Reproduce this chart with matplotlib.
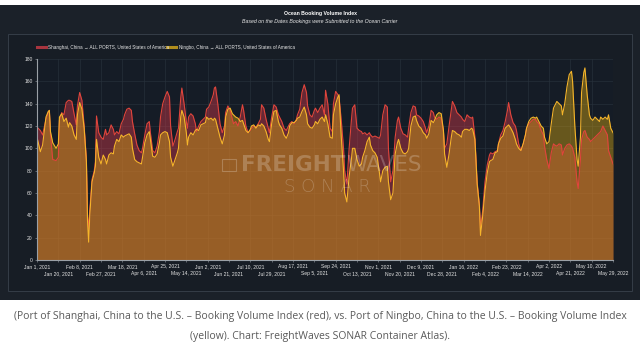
import matplotlib
matplotlib.use('Agg')
import matplotlib.pyplot as plt
import pandas as pd
from matplotlib.patches import Rectangle
from matplotlib.lines import Line2D

# ---------------- data (days since Jan 1, 2021) ----------------
start_date = '2021-01-01'
days = [0,3,5,8,10,11,12,14,17,19,
20,22,24,26,28,29,31,33,35,36,
38,40,42,44,45,46,47,49,51,52,
53,55,57,59,61,62,64,66,68,69,
71,73,75,77,78,80,82,84,85,87,
89,91,93,94,96,98,100,101,103,105,
107,109,110,112,114,116,118,119,121,123,
125,126,128,129,131,133,134,135,137,139,
141,142,144,146,148,150,151,153,155,157,
158,159,161,163,165,167,168,170,172,174,
175,177,179,181,183,184,186,188,190,191,
193,195,197,199,200,202,204,206,207,209,
211,213,215,216,218,220,222,224,225,227,
229,231,232,234,236,238,240,241,243,245,
247,248,250,252,254,256,257,259,261,263,
264,266,268,269,271,273,274,276,278,280,
281,283,285,287,289,290,292,294,296,297,
299,301,303,305,306,308,310,312,313,315,
317,319,321,322,324,326,328,330,331,333,
335,337,338,340,342,344,346,347,349,351,
353,354,356,358,360,362,363,365,367,369,
370,372,374,376,378,379,381,383,385,387,
388,390,392,394,395,397,399,401,403,404,
406,408,410,411,413,415,417,419,420,422,
424,426,427,429,431,433,435,436,438,440,
442,444,445,447,449,451,452,454,456,458,
460,461,463,465,467,468,470,472,474,476,
477,479,481,482,484,485,487,488,490,492,
493,495,497,499,501,502,504,506,508,509,
511,513]

shanghai = [119,116,112,126,132,134,112,90,89,92,
125,132,130,141,143,143,142,131,121,138,
150,143,120,90,40,28,45,72,80,88,
129,114,110,108,117,112,114,121,117,112,
115,113,122,126,130,135,136,134,124,113,
103,98,96,100,112,122,124,114,98,96,
102,115,128,140,146,151,146,120,102,108,
115,118,145,154,140,124,118,128,131,129,
122,115,120,124,126,128,135,137,142,148,
154,155,140,122,114,120,132,138,134,126,
122,124,120,128,139,134,120,114,116,118,
120,119,122,126,139,136,126,118,114,128,
139,137,130,128,124,118,116,120,122,124,
122,126,130,135,150,157,150,138,130,128,
134,136,132,136,139,130,152,140,118,115,
140,151,148,146,125,100,80,68,100,125,
136,139,118,116,115,113,114,112,114,112,
110,111,110,109,112,130,139,137,100,70,
80,110,125,128,118,113,112,110,118,132,
138,137,130,129,127,124,118,114,120,134,
132,128,126,128,127,115,100,104,120,135,
142,138,132,130,128,126,124,130,128,127,
128,110,70,50,28,45,70,85,94,96,
95,97,98,104,112,116,124,134,141,130,
123,120,116,104,98,104,112,118,122,124,
126,126,124,122,116,112,102,90,82,96,
104,103,102,104,103,94,100,103,104,102,
100,92,70,64,90,108,115,116,110,108,
106,108,110,112,114,115,120,116,112,98,
92,86]

ningbo = [110,97,103,128,133,134,115,105,100,104,
128,131,124,127,119,123,120,112,108,130,
141,135,118,88,35,16,40,70,78,84,
108,92,86,94,90,86,94,96,95,102,
108,106,112,110,111,112,113,110,100,90,
88,87,86,92,105,112,115,108,93,92,
95,105,112,114,115,114,106,92,84,90,
96,100,128,134,128,114,103,110,114,112,
116,117,116,121,122,123,128,126,127,125,
127,126,118,110,104,112,128,135,136,131,
130,128,127,124,125,122,116,114,117,120,
121,118,121,120,122,120,115,108,106,122,
133,134,124,121,118,112,109,114,120,123,
123,125,127,128,133,137,130,122,119,118,
121,124,122,126,128,124,130,122,110,109,
130,140,146,148,110,80,60,52,75,90,
100,100,90,84,86,92,98,106,110,103,
98,96,92,78,70,80,83,84,70,54,
60,95,105,108,100,96,95,97,100,120,
128,129,125,120,118,114,112,109,113,125,
123,125,130,132,131,116,95,83,95,110,
116,115,113,112,110,115,117,117,116,118,
117,108,68,48,22,40,62,78,88,89,
90,96,97,104,109,111,118,120,121,118,
114,108,104,100,98,104,112,118,124,127,
128,127,128,124,120,118,110,104,106,122,
136,138,142,140,138,130,140,155,166,169,
160,120,90,84,110,150,168,172,148,130,
127,125,128,126,124,128,126,128,126,130,
118,114]

series_names = ['Shanghai, China \u2192 ALL PORTS, United States of America',
                'Ningbo, China \u2192 ALL PORTS, United States of America']
y_ticks = [0, 20, 40, 60, 80, 100, 120, 140, 160, 180]
x_tick_step_days = 19
x_tick_count = 28

title = 'Ocean Booking Volume Index'
subtitle = 'Based on the Dates Bookings were Submitted to the Ocean Carrier'
caption1 = ('(Port of Shanghai, China to the U.S. \u2013 Booking Volume Index (red), vs. '
            'Port of Ningbo, China to the U.S. \u2013 Booking Volume Index')
caption2 = '(yellow). Chart: FreightWaves SONAR Container Atlas).'

# ---------------- figure ----------------
W, H = 640, 352
fig = plt.figure(figsize=(W / 100, H / 100), dpi=100)
fig.patch.set_facecolor('white')

def fx(px):
    return px / W

def fy(py):
    return 1 - py / H

narrow = ['Liberation Sans', 'DejaVu Sans']

panel_bg = '#1b2129'
fig.patches.append(Rectangle((0, fy(300)), 1, (300 - 5) / H, transform=fig.transFigure,
                             facecolor=panel_bg, edgecolor='none', zorder=-3))
fig.patches.append(Rectangle((fx(8), fy(291)), (632 - 8) / W, (291 - 34) / H,
                             transform=fig.transFigure, facecolor='#171d25',
                             edgecolor='#353d48', lw=0.7, zorder=-2))

fig.text(0.5, fy(13.5), title, ha='center', va='center', fontsize=3.7,
         fontweight='bold', color='white', family=narrow)
fig.text(0.5, fy(21), subtitle, ha='center', va='center', fontsize=3.8,
         style='italic', color='#e6e6e6', family=narrow)

red_line = '#e0453c'
red_fill = '#d93a4a'
yel_line = '#f5b52a'
yel_fill = '#dba912'

# legend (manual)
leg_y = fy(47)
fig.add_artist(Line2D([fx(37), fx(46)], [leg_y, leg_y], color='#a8353f', lw=2.2,
                      transform=fig.transFigure))
fig.text(fx(48), leg_y, series_names[0], ha='left', va='center', fontsize=3.3,
         color='#e8e8e8', family=narrow)
fig.add_artist(Line2D([fx(167), fx(176)], [leg_y, leg_y], color='#b08d1c', lw=2.2,
                      transform=fig.transFigure))
fig.text(fx(179), leg_y, series_names[1], ha='left', va='center', fontsize=3.3,
         color='#e8e8e8', family=narrow)

# axes
ax = fig.add_axes([fx(37), fy(260), (613 - 37) / W, (260 - 59) / H])
ax.set_facecolor('#151c26')

dates = pd.Timestamp(start_date) + pd.to_timedelta(days, unit='D')

ax.fill_between(dates, 0, shanghai, color=red_fill, alpha=0.42, lw=0, zorder=2)
ax.fill_between(dates, 0, ningbo, color=yel_fill, alpha=0.42, lw=0, zorder=3)
ax.plot(dates, shanghai, color=red_line, lw=0.8, zorder=4)
ax.plot(dates, ningbo, color=yel_line, lw=0.8, zorder=5)

ax.set_ylim(0, 180)
ax.set_xlim(dates[0], dates[-1])
ax.set_yticks(y_ticks)
ax.set_yticklabels([str(v) for v in y_ticks])

tick_dates = [pd.Timestamp(start_date) + pd.Timedelta(days=i * x_tick_step_days)
              for i in range(x_tick_count)]
tick_labels = [f"{d.strftime('%b')} {d.day}, {d.year}" for d in tick_dates]
ax.set_xticks(tick_dates)
ax.set_xticklabels(tick_labels)

ax.tick_params(axis='both', colors='#7d848c', labelcolor='#e4e4e4', labelsize=3.6,
               length=1.5, width=0.5, pad=1.5)
for i, t in enumerate(ax.xaxis.get_major_ticks()):
    if i % 2 == 1:
        t.set_pad(6.5)
for lab in ax.get_xticklabels() + ax.get_yticklabels():
    lab.set_family(narrow)

ax.grid(True, color='#28313c', lw=0.45, zorder=1)
ax.set_axisbelow(True)
for s in ['top', 'right']:
    ax.spines[s].set_visible(False)
for s in ['left', 'bottom']:
    ax.spines[s].set_color('#9aa0a6')
    ax.spines[s].set_linewidth(0.8)
    ax.spines[s].set_zorder(6)

# watermark
wm = dict(color='white', alpha=0.22, zorder=7, va='center')
t1 = ax.text(0.355, 0.472, 'FREIGHT', ha='left', fontsize=15.5, fontweight='bold',
             transform=ax.transAxes, **wm)
ax.annotate('WAVES', xy=(1.0, 0.5), xycoords=t1, ha='left', fontsize=15.5,
            fontweight='normal', **wm)
ax.text(0.505, 0.362, 'S O N A R', ha='center', fontsize=13, fontweight='light',
        transform=ax.transAxes, **wm)
ax.add_patch(Rectangle((0.322, 0.442), 0.024, 0.06, transform=ax.transAxes,
                       facecolor='none', edgecolor='white', alpha=0.22, lw=0.8, zorder=7))

# caption
fig.text(0.5, fy(316), caption1, ha='center', va='center', fontsize=7.5,
         color='#5a5a5a', family=['Open Sans', 'DejaVu Sans'])
fig.text(0.5, fy(336), caption2, ha='center', va='center', fontsize=7.5,
         color='#5a5a5a', family=['Open Sans', 'DejaVu Sans'])

fig.savefig('out.png', dpi=100, facecolor='white')
